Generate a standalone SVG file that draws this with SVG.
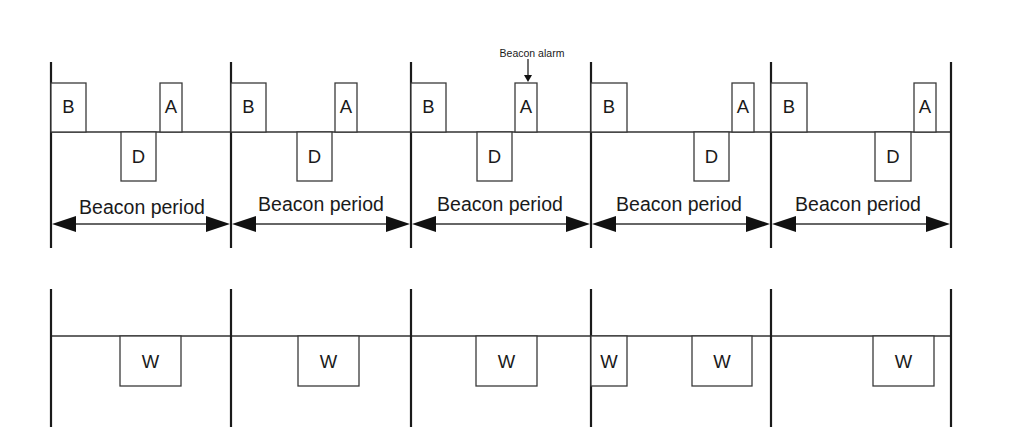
<svg xmlns="http://www.w3.org/2000/svg" width="1032" height="447" viewBox="0 0 1032 447">
<style>
.v{stroke:#1a1a1a;stroke-width:2.2;fill:none}
.h{stroke:#333;stroke-width:1.4;fill:none}
.box{fill:#fff;stroke:#3a3a3a;stroke-width:1.3}
.lbl{font-family:"Liberation Sans",Arial,sans-serif;font-size:18.5px;fill:#1a1a1a;text-anchor:middle}
.bp{font-family:"Liberation Sans",Arial,sans-serif;font-size:19.5px;fill:#1a1a1a;text-anchor:middle}
.sm{font-family:"Liberation Sans",Arial,sans-serif;font-size:10.5px;fill:#1a1a1a;text-anchor:middle}
.ah{fill:#111}
</style>
<rect width="1032" height="447" fill="#fff"/>
<g id="connectors">
<line class="h" x1="51" y1="132" x2="951" y2="132"/>
<line class="h" x1="51" y1="336" x2="951" y2="336"/>
<line class="v" x1="51" y1="62" x2="51" y2="248"/>
<line class="v" x1="231" y1="62" x2="231" y2="248"/>
<line class="v" x1="411" y1="62" x2="411" y2="248"/>
<line class="v" x1="591" y1="62" x2="591" y2="248"/>
<line class="v" x1="771" y1="62" x2="771" y2="248"/>
<line class="v" x1="951" y1="62" x2="951" y2="248"/>
<line class="v" x1="51" y1="289" x2="51" y2="427"/>
<line class="v" x1="231" y1="289" x2="231" y2="427"/>
<line class="v" x1="411" y1="289" x2="411" y2="427"/>
<line class="v" x1="591" y1="289" x2="591" y2="427"/>
<line class="v" x1="771" y1="289" x2="771" y2="427"/>
<line class="v" x1="951" y1="289" x2="951" y2="427"/>
<g id="period-arrows">
<line class="h" x1="70" y1="224" x2="212" y2="224"/>
<polygon class="ah" points="52,224 76,216 76,232"/>
<polygon class="ah" points="230,224 206,216 206,232"/>
<line class="h" x1="250" y1="224" x2="392" y2="224"/>
<polygon class="ah" points="232,224 256,216 256,232"/>
<polygon class="ah" points="410,224 386,216 386,232"/>
<line class="h" x1="430" y1="224" x2="572" y2="224"/>
<polygon class="ah" points="412,224 436,216 436,232"/>
<polygon class="ah" points="590,224 566,216 566,232"/>
<line class="h" x1="610" y1="224" x2="752" y2="224"/>
<polygon class="ah" points="592,224 616,216 616,232"/>
<polygon class="ah" points="770,224 746,216 746,232"/>
<line class="h" x1="790" y1="224" x2="932" y2="224"/>
<polygon class="ah" points="772,224 796,216 796,232"/>
<polygon class="ah" points="950,224 926,216 926,232"/>
</g>
<g id="alarm-arrow">
<line x1="528" y1="59" x2="528" y2="76" stroke="#111" stroke-width="1.2"/>
<polygon class="ah" points="528,82 524,75 532,75"/>
</g>
</g>
<g id="period1">
<rect class="box" x="51" y="83" width="35" height="49"/><text class="lbl" x="68.5" y="113">B</text>
<rect class="box" x="160" y="83" width="22" height="49"/><text class="lbl" x="171" y="113">A</text>
<rect class="box" x="121" y="132" width="35" height="49"/><text class="lbl" x="138.5" y="163">D</text>
<text class="bp" x="142" y="214">Beacon period</text>
</g>
<g id="period2">
<rect class="box" x="231" y="83" width="35" height="49"/><text class="lbl" x="248.5" y="113">B</text>
<rect class="box" x="335" y="83" width="22" height="49"/><text class="lbl" x="346" y="113">A</text>
<rect class="box" x="297" y="132" width="35" height="49"/><text class="lbl" x="314.5" y="163">D</text>
<text class="bp" x="321" y="211">Beacon period</text>
</g>
<g id="period3">
<rect class="box" x="411" y="83" width="35" height="49"/><text class="lbl" x="428.5" y="113">B</text>
<rect class="box" x="515" y="83" width="22" height="49"/><text class="lbl" x="526" y="113">A</text>
<rect class="box" x="477" y="132" width="35" height="49"/><text class="lbl" x="494.5" y="163">D</text>
<text class="bp" x="500" y="211">Beacon period</text>
<text class="sm" x="532" y="57">Beacon alarm</text>
</g>
<g id="period4">
<rect class="box" x="591" y="83" width="36" height="49"/><text class="lbl" x="609" y="113">B</text>
<rect class="box" x="732" y="83" width="22" height="49"/><text class="lbl" x="743" y="113">A</text>
<rect class="box" x="694" y="132" width="35" height="49"/><text class="lbl" x="711.5" y="163">D</text>
<text class="bp" x="679" y="211">Beacon period</text>
</g>
<g id="period5">
<rect class="box" x="771" y="83" width="36" height="49"/><text class="lbl" x="789" y="113">B</text>
<rect class="box" x="914" y="83" width="22" height="49"/><text class="lbl" x="925" y="113">A</text>
<rect class="box" x="875" y="132" width="36" height="49"/><text class="lbl" x="893" y="163">D</text>
<text class="bp" x="858" y="211">Beacon period</text>
</g>
<g id="wake1"><rect class="box" x="120" y="336" width="61" height="50"/><text class="lbl" x="150.5" y="368">W</text></g>
<g id="wake2"><rect class="box" x="298" y="336" width="61" height="50"/><text class="lbl" x="328.5" y="368">W</text></g>
<g id="wake3"><rect class="box" x="476" y="336" width="61" height="50"/><text class="lbl" x="506.5" y="368">W</text></g>
<g id="wake4a"><rect class="box" x="591" y="336" width="36" height="50"/><text class="lbl" x="609" y="368">W</text></g>
<g id="wake4b"><rect class="box" x="692" y="336" width="60" height="50"/><text class="lbl" x="722" y="368">W</text></g>
<g id="wake5"><rect class="box" x="873" y="336" width="61" height="50"/><text class="lbl" x="903.5" y="368">W</text></g>
</svg>
